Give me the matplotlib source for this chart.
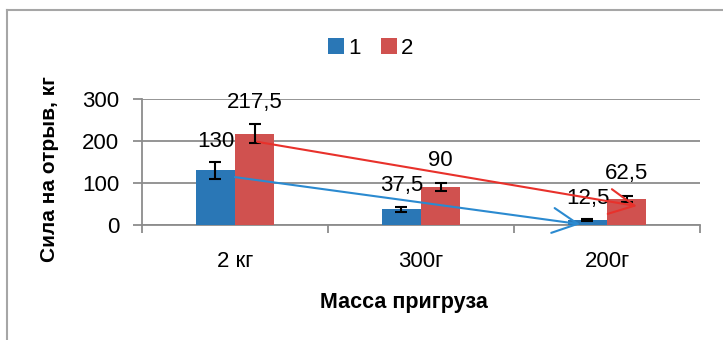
import numpy as np
import matplotlib.pyplot as plt
from matplotlib.lines import Line2D

plt.rcParams["font.family"] = ["Liberation Sans", "DejaVu Sans"]

# Data
categories = ["2 кг", "300г", "200г"]
series_names = ["1", "2"]
values_1 = [130, 37.5, 12.5]
values_2 = [217.5, 90, 62.5]
errors_1 = [20, 6, 2]
errors_2 = [22, 10, 7]
labels_1 = ["130", "37,5", "12,5"]
labels_2 = ["217,5", "90", "62,5"]

# hand-drawn trend arrows (category position, value)
arrow_1_start = (0.0, 114)
arrow_1_end = (1.855, 2)
arrow_2_start = (0.12, 198)
arrow_2_end = (2.16, 45)

blue = "#2A77B6"
red = "#D0514F"
grid_col = "#8C8C8C"

fig = plt.figure(figsize=(7.23, 3.40), dpi=100)
ax = fig.add_axes([142 / 723, 1 - 225 / 340, 558 / 723, 126 / 340])

# outer chart frame (clipped at right and bottom)
fig.add_artist(Line2D([7 / 723, 7 / 723], [0, 1 - 10 / 340], color="#A6A6A6", lw=1.5))
fig.add_artist(Line2D([7 / 723, 1], [1 - 10 / 340, 1 - 10 / 340], color="#A6A6A6", lw=1.5))

x = np.arange(len(categories))
w = 0.21
b1 = ax.bar(x - w / 2, values_1, w, color=blue, label=series_names[0], zorder=3)
b2 = ax.bar(x + w / 2, values_2, w, color=red, label=series_names[1], zorder=3)
ax.errorbar(x - w / 2, values_1, yerr=errors_1, fmt="none", ecolor="black",
            elinewidth=1.5, capsize=4, capthick=1.5, zorder=4)
ax.errorbar(x + w / 2, values_2, yerr=errors_2, fmt="none", ecolor="black",
            elinewidth=1.5, capsize=4, capthick=1.5, zorder=4)

for xi, v, e, t in zip(x - w / 2, values_1, errors_1, labels_1):
    ax.annotate(t, (xi, v + e), xytext=(0, 15), textcoords="offset points",
                ha="center", va="center", fontsize=16, zorder=5)
for xi, v, e, t in zip(x + w / 2, values_2, errors_2, labels_2):
    ax.annotate(t, (xi, v + e), xytext=(0, 16), textcoords="offset points",
                ha="center", va="center", fontsize=16, zorder=5)

ax.annotate("", xy=arrow_1_end, xytext=arrow_1_start,
            arrowprops=dict(arrowstyle="->,head_length=1.0,head_width=0.5",
                            color="#2B8AD0", lw=1.5, mutation_scale=18,
                            shrinkA=0, shrinkB=0), zorder=6)
ax.annotate("", xy=arrow_2_end, xytext=arrow_2_start,
            arrowprops=dict(arrowstyle="->,head_length=1.0,head_width=0.5",
                            color="#E8312B", lw=1.5, mutation_scale=18,
                            shrinkA=0, shrinkB=0), zorder=6)

ax.set_xlim(-0.5, 2.5)
ax.set_ylim(0, 300)
ax.set_yticks([0, 100, 200, 300])
ax.yaxis.grid(True, color=grid_col, lw=1.3)
ax.set_axisbelow(True)
for s in ["top", "right"]:
    ax.spines[s].set_visible(False)
for s in ["left", "bottom"]:
    ax.spines[s].set_color(grid_col)
    ax.spines[s].set_linewidth(1.3)

ax.set_xticks(x)
ax.set_xticklabels(categories)
ax.set_xticks([-0.5, 0.5, 1.5, 2.5], minor=True)
ax.tick_params(axis="x", which="major", length=0, pad=19, labelsize=16)
ax.tick_params(axis="x", which="minor", length=6, width=1.3, color=grid_col)
ax.tick_params(axis="y", length=6.5, width=1.3, color=grid_col, pad=10, labelsize=16)

ax.set_xlabel("Масса пригруза", fontsize=15.5, fontweight="bold")
ax.xaxis.set_label_coords(0.47, -0.53)
ax.set_ylabel("Сила на отрыв, кг", fontsize=15, fontweight="bold")
ax.yaxis.set_label_coords(-0.149, 0.44)

fig.legend(handles=[b1, b2], loc="center", bbox_to_anchor=(0.513, 1 - 48 / 340),
           ncol=2, frameon=False, fontsize=16, handlelength=0.7, handleheight=0.7,
           handletextpad=0.2, columnspacing=0.9)

fig.savefig("out.png", dpi=100)
